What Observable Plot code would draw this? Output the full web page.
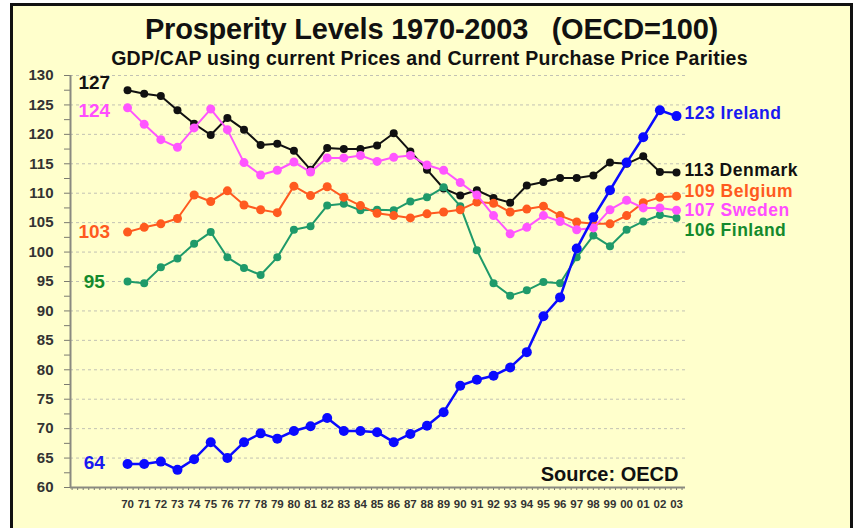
<!DOCTYPE html>
<html><head><meta charset="utf-8">
<script src="https://cdn.jsdelivr.net/npm/d3@7"></script>
<script src="https://cdn.jsdelivr.net/npm/@observablehq/plot@0.6"></script>
<style>
body{margin:0;background:#fff;width:859px;height:528px;overflow:hidden;position:relative;font-family:"Liberation Sans",Arial,sans-serif;}
#frame{position:absolute;left:10px;top:3px;width:837px;height:600px;border:3px solid #111;border-bottom:none;background:#FFFFCC;}
#title{position:absolute;left:2px;width:859px;top:14.5px;text-align:center;font-size:29px;font-weight:bold;line-height:1;white-space:pre;color:#111;letter-spacing:-0.2px;}
#subtitle{position:absolute;left:0;width:859px;top:48.5px;text-align:center;font-size:19.5px;font-weight:bold;line-height:1;white-space:pre;color:#111;letter-spacing:0.25px;}
#chart{position:absolute;left:0;top:68px;}
#chart g[text-anchor="start"] text{letter-spacing:0.5px;}
</style></head>
<body>
<div id="frame"></div>
<div id="title">Prosperity Levels 1970-2003   (OECD=100)</div>
<div id="subtitle">GDP/CAP using current Prices and Current Purchase Price Parities</div>
<div id="chart"></div>
<script>
const years = [1970,1971,1972,1973,1974,1975,1976,1977,1978,1979,1980,1981,1982,1983,1984,1985,1986,1987,1988,1989,1990,1991,1992,1993,1994,1995,1996,1997,1998,1999,2000,2001,2002,2003];
const countries = ["Denmark","Finland","Belgium","Sweden","Ireland"];
const denmark = [127.5,126.9,126.5,124.1,121.8,119.9,122.8,120.8,118.2,118.4,117.2,114.0,117.7,117.5,117.5,118.1,120.2,117.1,114.0,110.8,109.6,110.5,109.2,108.4,111.3,111.9,112.6,112.6,113.0,115.2,115.0,116.3,113.6,113.5];
const finland = [95.0,94.7,97.4,98.9,101.4,103.4,99.1,97.3,96.1,99.1,103.8,104.4,107.9,108.2,107.1,107.2,107.1,108.6,109.3,111.0,107.8,100.3,94.7,92.6,93.5,94.9,94.7,99.1,102.8,101.0,103.8,105.2,106.3,105.8];
const belgium = [103.4,104.2,104.8,105.7,109.7,108.6,110.4,108.0,107.2,106.7,111.2,109.6,111.1,109.3,107.9,106.6,106.2,105.8,106.5,106.8,107.2,108.5,108.3,106.8,107.3,107.8,106.2,105.1,104.8,104.8,106.2,108.4,109.3,109.5];
const sweden = [124.5,121.7,119.1,117.8,121.1,124.3,120.8,115.2,113.1,113.9,115.3,113.6,116.0,116.0,116.4,115.4,116.1,116.4,114.8,113.9,111.8,109.7,106.2,103.1,104.2,106.2,105.2,103.8,104.1,107.2,108.8,107.5,107.5,107.1];
const ireland = [64.0,64.0,64.4,63.0,64.8,67.7,65.0,67.7,69.2,68.3,69.6,70.4,71.8,69.6,69.6,69.4,67.7,69.1,70.5,72.8,77.3,78.3,79.0,80.4,83.0,89.1,92.3,100.6,105.9,110.5,115.2,119.5,124.1,123.1];
const startLabels = ["127","95","103","124","64"];
const endLabels = ["113 Denmark","106 Finland","109 Belgium","107 Sweden","123 Ireland"];
const yTicks = [60,62.5,65,67.5,70,72.5,75,77.5,80,82.5,85,87.5,90,92.5,95,97.5,100,102.5,105,107.5,110,112.5,115,117.5,120,122.5,125,127.5,130];
const sourceText = "Source: OECD";

const seriesValues = [denmark, finland, belgium, sweden, ireland];
const table = countries.flatMap((c, k) => years.map((yr, i) => ({country: c, year: yr, value: seriesValues[k][i]})));

// styles (not data)
const style = {
  Denmark: {stroke:"#111111", width:2, r:4, label:"#111111", dyStart:-7, dyEnd:-2},
  Finland: {stroke:"#1f9a6a", width:2, r:4, label:"#148a2c", dyStart:0, dyEnd:12.5},
  Belgium: {stroke:"#ff5a1f", width:2, r:4.5, label:"#ff5a1f", dyStart:0, dyEnd:-5},
  Sweden:  {stroke:"#ff55ff", width:2, r:4.5, label:"#ff4dff", dyStart:3.5, dyEnd:0.5},
  Ireland: {stroke:"#0a0aff", width:2.5, r:5, label:"#1a1af0", dyStart:-1, dyEnd:-2.3}
};

const xDomain = [1966.57, 2003.54];
const minorX = d3.range(-10, 101).map(k => years[0] + k / 3);

const marks = [
  Plot.ruleY(yTicks.filter(d => d % 5 === 0 && d > 60), {stroke:"#c2c2b4", strokeDasharray:"3,3", strokeWidth:1}),
  Plot.axisY({ticks: yTicks, tickSize: 6, tickPadding: 11, tickFormat: d => d % 5 === 0 ? String(d) : "", fontSize: 15, fontWeight: "bold", fill: "#333", stroke: "#7a7a70", label: null}),
  Plot.axisX({ticks: minorX, tickSize: 3, tickFormat: () => "", stroke: "#7a7a70", label: null}),
  Plot.axisX({ticks: years, tickSize: 0, tickPadding: 12, tickFormat: d => String(d).slice(2), fontSize: 11.5, fontWeight: "bold", fill: "#333", label: null}),
  Plot.ruleX([xDomain[0]], {y1: 60, y2: 130, stroke: "#8a8a80", strokeWidth: 2}),
  Plot.ruleY([60], {stroke: "#8a8a80", strokeWidth: 2})
];

countries.forEach((c, k) => {
  const s = style[c];
  const rows = table.filter(d => d.country === c);
  marks.push(Plot.line(rows, {x: "year", y: "value", stroke: s.stroke, strokeWidth: s.width}));
  marks.push(Plot.dot(rows, {x: "year", y: "value", fill: s.stroke, r: s.r}));
  marks.push(Plot.text([rows[0]], {x: d => d.year - 2, y: "value", text: () => startLabels[k], fill: s.label, fontSize: 19, fontWeight: "bold", textAnchor: "middle", dy: s.dyStart}));
  marks.push(Plot.text([rows[rows.length - 1]], {x: "year", y: "value", text: () => endLabels[k], fill: s.label, fontSize: 17.5, fontWeight: "bold", textAnchor: "start", dx: 8, dy: s.dyEnd}));
});

marks.push(Plot.text([sourceText], {frameAnchor: "bottom-right", dx: -7, dy: -7, fontSize: 20, fontWeight: "bold", fill: "#111", textAnchor: "end", lineAnchor: "bottom"}));

const chart = Plot.plot({
  width: 859,
  height: 460,
  marginTop: 7,
  marginBottom: 41,
  marginLeft: 70,
  marginRight: 174,
  style: {background: "transparent", fontFamily: "'Liberation Sans', Arial, sans-serif", overflow: "visible"},
  x: {type: "linear", domain: xDomain},
  y: {domain: [60, 130]},
  marks
});
document.getElementById("chart").appendChild(chart);
</script>
</body></html>
